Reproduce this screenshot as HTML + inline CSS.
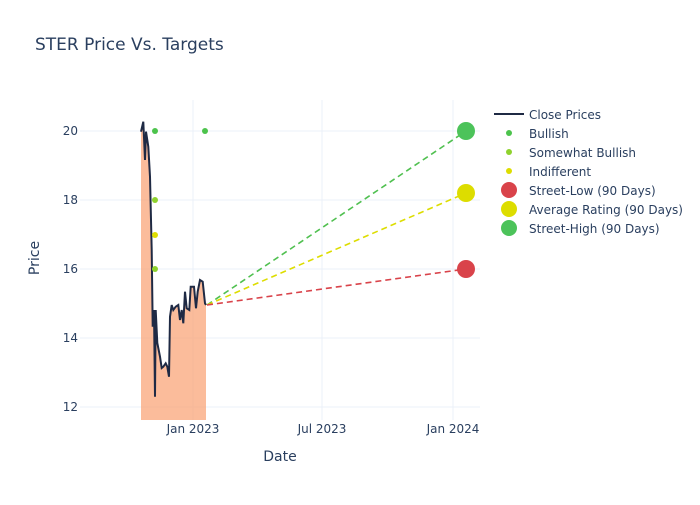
<!DOCTYPE html>
<html><head><meta charset="utf-8"><style>
body{margin:0;background:#fff}
svg text{font-family:"DejaVu Sans","Liberation Sans",sans-serif;fill:#2a3f5f}
</style></head><body>
<svg width="700" height="500" xmlns="http://www.w3.org/2000/svg">
<rect width="700" height="500" fill="#fff"/>
<text x="35" y="50" font-size="17">STER Price Vs. Targets</text>
<g stroke="#ebf0f8" stroke-width="1">
<line x1="80" x2="480" y1="131" y2="131"/><line x1="80" x2="480" y1="200" y2="200"/>
<line x1="80" x2="480" y1="269" y2="269"/><line x1="80" x2="480" y1="338" y2="338"/>
<line x1="80" x2="480" y1="407" y2="407"/>
<line x1="193" x2="193" y1="100" y2="420"/><line x1="322" x2="322" y1="100" y2="420"/><line x1="453" x2="453" y1="100" y2="420"/>
</g>
<g font-size="12" text-anchor="end">
<text x="78" y="135">20</text><text x="78" y="204">18</text><text x="78" y="273">16</text><text x="78" y="342">14</text><text x="78" y="411">12</text>
</g>
<g font-size="12" text-anchor="middle">
<text x="193" y="433">Jan 2023</text><text x="322" y="433">Jul 2023</text><text x="453" y="433">Jan 2024</text>
</g>
<text x="280" y="461" font-size="14" text-anchor="middle">Date</text>
<text x="39" y="258" font-size="14" text-anchor="middle" transform="rotate(-90 39 258)">Price</text>
<polygon fill="#f9a67a" fill-opacity="0.75" points="141,420 141,131.7 143.3,121.7 145,160 146,131.7 147.3,140 148.3,146.7 150,176.7 151.7,250 152.7,326.7 154,310 155,396.7 155.7,310 157.3,343 160,356.7 161.7,368 163.3,366.7 165.7,363.3 167.3,366.7 169,376.7 170,316.7 171.7,305 173.3,310 175.7,306.7 178.3,305 180,320 181.7,310 183.3,323.3 185,291.7 186.7,308.3 189.3,310 190.7,286.7 194,286.7 196,308.3 197.7,291.7 200,280 202.7,281.7 205,303.3 206,305 206,420"/>
<polyline fill="none" stroke="#1f2a44" stroke-width="2" points="141,131.7 143.3,121.7 145,160 146,131.7 147.3,140 148.3,146.7 150,176.7 151.7,250 152.7,326.7 154,310 155,396.7 155.7,310 157.3,343 160,356.7 161.7,368 163.3,366.7 165.7,363.3 167.3,366.7 169,376.7 170,316.7 171.7,305 173.3,310 175.7,306.7 178.3,305 180,320 181.7,310 183.3,323.3 185,291.7 186.7,308.3 189.3,310 190.7,286.7 194,286.7 196,308.3 197.7,291.7 200,280 202.7,281.7 205,303.3 206,305"/>
<g stroke-width="1.6" stroke-dasharray="6,4" fill="none">
<line x1="207" y1="305" x2="466" y2="131" stroke="#50c050"/>
<line x1="207" y1="305" x2="466" y2="193" stroke="#dddd00"/>
<line x1="207" y1="305" x2="466" y2="269" stroke="#d9434a"/>
</g>
<circle cx="155" cy="131" r="3" fill="#4cc34c"/><circle cx="205" cy="131" r="3" fill="#4cc34c"/>
<circle cx="155" cy="200" r="3" fill="#8fd22e"/><circle cx="155" cy="235" r="3" fill="#dddd00"/>
<circle cx="155" cy="269" r="3" fill="#8fd22e"/>
<circle cx="466" cy="131" r="9" fill="#4cc35a"/>
<circle cx="466" cy="193" r="9" fill="#dddd00"/>
<circle cx="466" cy="269" r="9" fill="#d9434a"/>
<line x1="494" x2="524" y1="114" y2="114" stroke="#1f2a44" stroke-width="2"/>
<circle cx="509" cy="133" r="3" fill="#4cc34c"/>
<circle cx="509" cy="152" r="3" fill="#8fd22e"/>
<circle cx="509" cy="171" r="3" fill="#dddd00"/>
<circle cx="509" cy="190" r="8" fill="#d9434a"/>
<circle cx="509" cy="209" r="8" fill="#dddd00"/>
<circle cx="509" cy="228" r="8" fill="#4cc35a"/>
<g font-size="12">
<text x="529" y="119">Close Prices</text><text x="529" y="138">Bullish</text>
<text x="529" y="157">Somewhat Bullish</text><text x="529" y="176">Indifferent</text>
<text x="529" y="195">Street-Low (90 Days)</text><text x="529" y="214">Average Rating (90 Days)</text>
<text x="529" y="233">Street-High (90 Days)</text>
</g>
</svg>
</body></html>
